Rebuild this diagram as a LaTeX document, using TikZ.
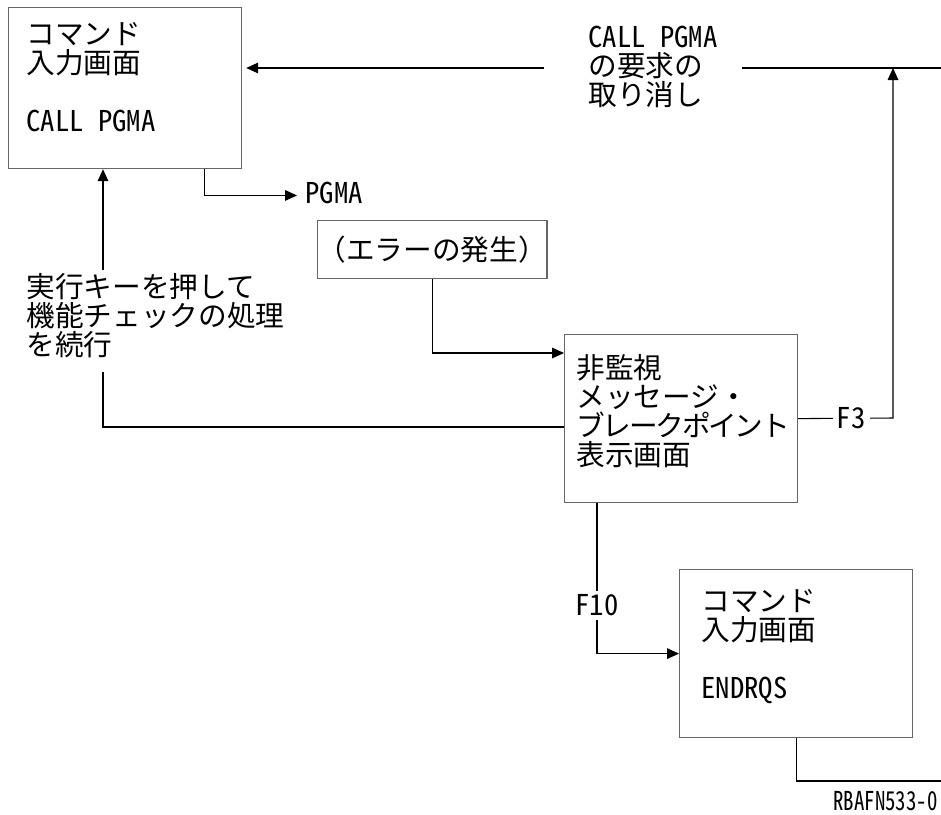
\documentclass[tikz,border=0pt]{standalone}
\usepackage{fontspec}
\setmainfont{Noto Sans CJK JP}
\newfontfamily\halfw[RawFeature=+hwid]{Noto Sans CJK JP}
\newfontfamily\idfont[RawFeature=+hwid, FakeStretch=0.8]{Noto Sans CJK JP}
\usetikzlibrary{arrows.meta,calc}
\newcommand\jpsize{\fontsize{21.5pt}{21.9pt}\selectfont}
\newcommand\lt[1]{{\halfw #1}}

\begin{document}
\begin{tikzpicture}[x=0.75pt, y=-0.75pt, line width=0.8pt,
    box/.style={draw=black!60, line width=0.9pt, rectangle, inner sep=0pt, anchor=north west},
    txt/.style={inner sep=0pt, align=left, anchor=base west, font=\jpsize},
    tag/.style={fill=white, inner sep=3pt, font=\jpsize\halfw},
    arr/.style={-{Triangle[length=9pt,width=8pt]}}]
  \useasboundingbox (0,0) rectangle (941,814);
  % Boxes
  \node[box, minimum width=174.75pt, minimum height=120.75pt] (cmdA) at (8,7) {};
  \node[box, minimum width=171pt, minimum height=43.5pt, font=\jpsize] (err) at (317,220) {（エラーの発生）};
  \node[box, minimum width=174.75pt, minimum height=126pt] (brk) at (564,334) {};
  \node[box, minimum width=174.75pt, minimum height=126pt] (cmdB) at (679,569) {};
  % Texts (placed at the baseline of their last line)
  \node[txt] (cmdAtxt) at (26,131.6) {コマンド\\入力画面\\[21.9pt]\lt{CALL PGMA}};
  \node[txt] (cancel) at (588,105.4) {\lt{CALL PGMA}\\の要求の\\取り消し};
  \node[txt] (pgma) at (305,203) {\lt{PGMA}};
  \node[txt] (resume) at (26,355.4) {実行キーを押して\\機能チェックの処理\\を続行};
  \node[txt] (brktxt) at (576,465.6) {非監視\\メッセージ・\\{\addfontfeature{LetterSpace=-8}ブレークポイント}\\表示画面};
  \node[txt] (cmdBtxt) at (701,698.6) {コマンド\\入力画面\\[21.9pt]\lt{ENDRQS}};
  \node[txt, font=\fontsize{19.5pt}{20pt}\selectfont\idfont] (figid) at (833,810) {RBAFN533-0};
  % Free ends and corners
  \coordinate (inR) at (941,68);
  \coordinate (gapL) at (544,68);
  \coordinate (gapR) at (742,68);
  \coordinate (loop) at (103,427);
  \coordinate (upF3) at (893,418);
  \coordinate (outB) at (941,781);
  % Cancel request back to the command screen
  \draw (inR) -- (gapR);
  \draw[arr, shorten >=3pt] (gapL) -- (cmdA.east |- gapL);
  \draw[arr] (brk.east) -- node[tag, pos=0.56] {F3} (upF3) -- (upF3 |- inR);
  % Call of the program
  \draw[arr, shorten >=6pt] ($(cmdA.south east)+(-38,0)$) |- ([yshift=-2.25pt]pgma.west);
  \draw[arr] (err.south) |- ($(brk.north west)+(0,19)$);
  % Continue with the function check
  \draw (brk.west |- loop) -- (loop) -- ([yshift=-10.5pt]loop |- resume.south);
  \draw[arr] ([yshift=2pt]loop |- resume.north) -- (loop |- cmdA.south);
  % End request
  \draw[arr] ($(brk.south west)+(33,0)$) |- node[tag, pos=0.34] {F10} (cmdB.west);
  \draw (cmdB.south) |- (outB);
\end{tikzpicture}
\end{document}
